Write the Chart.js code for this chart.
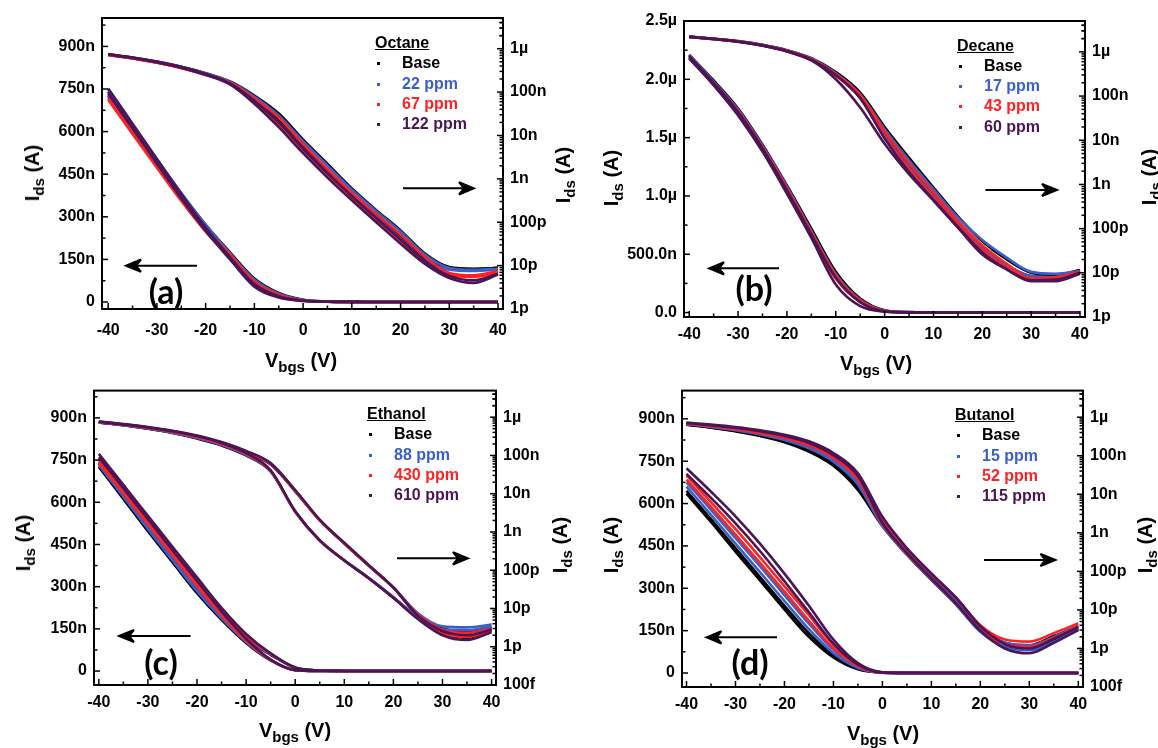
<!DOCTYPE html>
<html>
<head>
<meta charset="utf-8">
<script src="https://cdn.jsdelivr.net/npm/chart.js@4.4.1/dist/chart.umd.min.js"></script>
<style>
  body { margin: 0; width: 1158px; height: 748px; position: relative; background: #fff; overflow: hidden;
         font-family: "Liberation Sans", Arial, sans-serif; }
  .panel { position: absolute; width: 579px; height: 374px; }
  .ttl { position: absolute; font-weight: bold; font-size: 20px; line-height: 20px; white-space: nowrap;
         transform: translate(-50%, -50%); }
  .ttl.rot { transform: translate(-50%, -50%) rotate(-90deg); }
  .sb { font-size: 15px; position: relative; top: 5px; }
  .tag { position: absolute; font-family: Lato, "Open Sans", sans-serif; font-weight: bold; font-size: 34px;
         line-height: 34px; transform: translate(-50%, -50%); }
  .leg { position: absolute; font-weight: bold; font-size: 16px; }
  .leg div { height: 20.3px; line-height: 20.3px; position: relative; white-space: nowrap; }
  .leg .lt { text-decoration: underline; }
  .leg i { position: absolute; left: 2px; top: 9px; width: 3px; height: 3px; }
  .leg span { position: absolute; left: 27px; }
  svg { position: absolute; left: 0; top: 0; }
</style>
</head>
<body>
<div class="panel" style="left:0;top:0"><canvas id="cA" width="579" height="374"></canvas></div>
<div class="panel" style="left:579px;top:0"><canvas id="cB" width="579" height="374"></canvas></div>
<div class="panel" style="left:0;top:374px"><canvas id="cC" width="579" height="374"></canvas></div>
<div class="panel" style="left:579px;top:374px"><canvas id="cD" width="579" height="374"></canvas></div>

<div class="ttl rot" style="left:33px;top:173px">I<span class="sb">ds</span> (A)</div>
<div class="ttl rot" style="left:564px;top:175px">I<span class="sb">ds</span> (A)</div>
<div class="ttl" style="left:301px;top:361px">V<span class="sb">bgs</span> (V)</div>
<div class="ttl rot" style="left:612px;top:178px">I<span class="sb">ds</span> (A)</div>
<div class="ttl rot" style="left:1150px;top:177px">I<span class="sb">ds</span> (A)</div>
<div class="ttl" style="left:876px;top:364px">V<span class="sb">bgs</span> (V)</div>
<div class="ttl rot" style="left:24px;top:543px">I<span class="sb">ds</span> (A)</div>
<div class="ttl rot" style="left:561px;top:545px">I<span class="sb">ds</span> (A)</div>
<div class="ttl" style="left:295px;top:731px">V<span class="sb">bgs</span> (V)</div>
<div class="ttl rot" style="left:612px;top:545px">I<span class="sb">ds</span> (A)</div>
<div class="ttl rot" style="left:1146px;top:545px">I<span class="sb">ds</span> (A)</div>
<div class="ttl" style="left:883px;top:734px">V<span class="sb">bgs</span> (V)</div>

<div class="tag" style="left:166px;top:291px">(a)</div>
<div class="tag" style="left:754px;top:288px">(b)</div>
<div class="tag" style="left:161px;top:662px">(c)</div>
<div class="tag" style="left:750px;top:662px">(d)</div>

<svg width="1158" height="748">
  <g stroke="#000" stroke-width="2" fill="#000">
    <line x1="197" y1="265.7" x2="130" y2="265.7"/><path d="M126,265.7 L141,259.5 L136,265.7 L141,271.9 Z"/>
    <line x1="403" y1="188.3" x2="470" y2="188.3"/><path d="M474,188.3 L459,182.1 L464,188.3 L459,194.5 Z"/>
    <line x1="779" y1="268.3" x2="713" y2="268.3"/><path d="M709,268.3 L724,262.1 L719,268.3 L724,274.5 Z"/>
    <line x1="985.5" y1="190" x2="1053" y2="190"/><path d="M1057,190 L1042,183.8 L1047,190 L1042,196.2 Z"/>
    <line x1="190.5" y1="636" x2="123" y2="636"/><path d="M119,636 L134,629.8 L129,636 L134,642.2 Z"/>
    <line x1="397" y1="558.3" x2="464" y2="558.3"/><path d="M468,558.3 L453,552.1 L458,558.3 L453,564.5 Z"/>
    <line x1="777" y1="637.3" x2="710.4" y2="637.3"/><path d="M706.4,637.3 L721.4,631.1 L716.4,637.3 L721.4,643.5 Z"/>
    <line x1="984" y1="560" x2="1051.5" y2="560"/><path d="M1055.5,560 L1040.5,553.8 L1045.5,560 L1040.5,566.2 Z"/>
  </g>
</svg>

<script>
// gate voltage sweep points (V)
const vg = [-40, -35, -30, -25, -20, -15, -10, -5, 0, 5, 10, 15, 20, 25, 30, 35, 40];

// (a) Octane, drain current (A), upper (F) and lower (R) sweep branch
const octNames = ['Base', '22 ppm', '67 ppm', '122 ppm'];
const octBaseF = [7.40e-7, 6.20e-7, 5.00e-7, 3.82e-7, 2.72e-7, 1.75e-7, 8.3e-8, 3.2e-8, 8.0e-9, 2.2e-9, 6.0e-10, 1.9e-10, 6.5e-11, 1.9e-11, 9.3e-12, 8.5e-12, 8.7e-12];
const octBaseR = [7.25e-7, 6.02e-7, 4.80e-7, 3.62e-7, 2.55e-7, 1.63e-7, 6.8e-8, 2.2e-8, 5.6e-9, 1.5e-9, 4.3e-10, 1.4e-10, 4.6e-11, 1.45e-11, 8.5e-12, 8.0e-12, 9.0e-12];
const oct22F = [7.48e-7, 6.25e-7, 5.03e-7, 3.84e-7, 2.72e-7, 1.72e-7, 7.9e-8, 2.9e-8, 7.4e-9, 2.05e-9, 5.6e-10, 1.8e-10, 6.1e-11, 1.8e-11, 8.8e-12, 8.0e-12, 8.5e-12];
const oct22R = [7.30e-7, 6.08e-7, 4.86e-7, 3.66e-7, 2.55e-7, 1.60e-7, 6.5e-8, 2.0e-8, 5.1e-9, 1.4e-9, 4.0e-10, 1.3e-10, 4.2e-11, 1.35e-11, 8.0e-12, 7.5e-12, 8.0e-12];
const oct67F = [7.18e-7, 5.98e-7, 4.80e-7, 3.64e-7, 2.58e-7, 1.67e-7, 7.2e-8, 2.6e-8, 6.3e-9, 1.7e-9, 4.7e-10, 1.55e-10, 5.2e-11, 1.6e-11, 6.8e-12, 6.0e-12, 7.5e-12];
const oct67R = [7.12e-7, 5.92e-7, 4.73e-7, 3.56e-7, 2.48e-7, 1.56e-7, 5.9e-8, 1.8e-8, 4.6e-9, 1.25e-9, 3.7e-10, 1.15e-10, 3.7e-11, 1.2e-11, 6.0e-12, 5.5e-12, 7.0e-12];
const oct122F = [7.52e-7, 6.28e-7, 5.04e-7, 3.80e-7, 2.62e-7, 1.58e-7, 6.3e-8, 2.0e-8, 5.0e-9, 1.35e-9, 4.0e-10, 1.25e-10, 4.0e-11, 1.3e-11, 5.8e-12, 4.6e-12, 6.5e-12];
const oct122R = [7.35e-7, 6.12e-7, 4.88e-7, 3.65e-7, 2.50e-7, 1.50e-7, 5.4e-8, 1.55e-8, 3.9e-9, 1.07e-9, 3.2e-10, 1.0e-10, 3.2e-11, 1.1e-11, 5.2e-12, 4.0e-12, 6.2e-12];

// (b) Decane
const decNames = ['Base', '17 ppm', '43 ppm', '60 ppm'];
const decBaseF = [2.21e-6, 1.99e-6, 1.75e-6, 1.44e-6, 1.09e-6, 7.2e-7, 3.5e-7, 1.2e-7, 2.0e-8, 4.0e-9, 8.5e-10, 1.9e-10, 5.2e-11, 2.0e-11, 1.0e-11, 9.0e-12, 1.15e-11];
const decBaseR = [2.19e-6, 1.97e-6, 1.72e-6, 1.41e-6, 1.05e-6, 6.8e-7, 3.1e-7, 1.0e-7, 1.4e-8, 2.6e-9, 5.8e-10, 1.35e-10, 3.8e-11, 1.5e-11, 8.5e-12, 8.5e-12, 1.1e-11];
const dec17F = [2.21e-6, 1.98e-6, 1.74e-6, 1.43e-6, 1.08e-6, 7.0e-7, 3.3e-7, 1.1e-7, 1.8e-8, 3.5e-9, 7.8e-10, 1.8e-10, 5.5e-11, 2.2e-11, 1.05e-11, 9.5e-12, 1.1e-11];
const dec17R = [2.19e-6, 1.96e-6, 1.71e-6, 1.40e-6, 1.04e-6, 6.6e-7, 3.0e-7, 9.5e-8, 1.3e-8, 2.4e-9, 5.4e-10, 1.3e-10, 3.6e-11, 1.5e-11, 8.5e-12, 8.0e-12, 1.0e-11];
const dec43F = [2.20e-6, 1.97e-6, 1.73e-6, 1.42e-6, 1.07e-6, 6.9e-7, 3.2e-7, 1.05e-7, 1.6e-8, 3.0e-9, 6.6e-10, 1.5e-10, 4.2e-11, 1.6e-11, 7.5e-12, 8.0e-12, 1.05e-11];
const dec43R = [2.18e-6, 1.95e-6, 1.70e-6, 1.39e-6, 1.03e-6, 6.5e-7, 2.9e-7, 9.0e-8, 1.2e-8, 2.2e-9, 5.0e-10, 1.2e-10, 3.3e-11, 1.3e-11, 7.0e-12, 7.5e-12, 1.0e-11];
const dec60F = [2.20e-6, 1.97e-6, 1.72e-6, 1.41e-6, 1.05e-6, 6.7e-7, 3.0e-7, 9.0e-8, 1.1e-8, 1.9e-9, 4.5e-10, 1.1e-10, 2.9e-11, 1.2e-11, 6.8e-12, 7.0e-12, 1.0e-11];
const dec60R = [2.18e-6, 1.95e-6, 1.69e-6, 1.38e-6, 1.02e-6, 6.4e-7, 2.4e-7, 5.5e-8, 8.3e-9, 1.7e-9, 4.3e-10, 1.05e-10, 2.6e-11, 1.2e-11, 6.5e-12, 6.5e-12, 9.5e-12];

// (c) Ethanol
const ethNames = ['Base', '88 ppm', '430 ppm', '610 ppm'];
const ethBaseF = [7.38e-7, 6.25e-7, 5.10e-7, 4.00e-7, 2.90e-7, 1.95e-7, 1.15e-7, 5.8e-8, 1.15e-8, 2.0e-9, 5.0e-10, 1.3e-10, 3.5e-11, 6.5e-12, 3.0e-12, 2.5e-12, 3.2e-12];
const ethBaseR = [7.26e-7, 6.12e-7, 4.97e-7, 3.87e-7, 2.77e-7, 1.82e-7, 1.0e-7, 3.8e-8, 3.4e-9, 6.0e-10, 1.8e-10, 6.2e-11, 1.9e-11, 5.5e-12, 2.3e-12, 1.7e-12, 2.7e-12];
const eth88F = [7.45e-7, 6.32e-7, 5.18e-7, 4.07e-7, 2.97e-7, 2.00e-7, 1.18e-7, 6.0e-8, 1.2e-8, 2.05e-9, 5.1e-10, 1.35e-10, 3.6e-11, 7.5e-12, 3.4e-12, 3.2e-12, 3.8e-12];
const eth88R = [7.33e-7, 6.20e-7, 5.05e-7, 3.94e-7, 2.84e-7, 1.87e-7, 1.03e-7, 3.9e-8, 3.5e-9, 6.1e-10, 1.85e-10, 6.3e-11, 2.0e-11, 6.0e-12, 2.8e-12, 2.7e-12, 3.4e-12];
const eth430F = [7.52e-7, 6.45e-7, 5.35e-7, 4.25e-7, 3.15e-7, 2.12e-7, 1.24e-7, 6.1e-8, 1.2e-8, 2.0e-9, 5.0e-10, 1.3e-10, 3.5e-11, 7.0e-12, 2.8e-12, 2.3e-12, 3.0e-12];
const eth430R = [7.40e-7, 6.32e-7, 5.22e-7, 4.12e-7, 3.02e-7, 1.98e-7, 1.08e-7, 4.0e-8, 3.4e-9, 5.9e-10, 1.8e-10, 6.1e-11, 1.9e-11, 5.5e-12, 2.2e-12, 1.8e-12, 2.6e-12];
const eth610F = [7.72e-7, 6.62e-7, 5.52e-7, 4.42e-7, 3.33e-7, 2.25e-7, 1.32e-7, 6.3e-8, 1.25e-8, 2.1e-9, 5.2e-10, 1.35e-10, 3.5e-11, 6.5e-12, 2.6e-12, 2.0e-12, 2.8e-12];
const eth610R = [7.60e-7, 6.50e-7, 5.40e-7, 4.30e-7, 3.20e-7, 2.12e-7, 1.15e-7, 4.1e-8, 3.5e-9, 6.0e-10, 1.8e-10, 6.2e-11, 1.9e-11, 5.3e-12, 2.0e-12, 1.5e-12, 2.4e-12];

// (d) Butanol
const butNames = ['Base', '15 ppm', '52 ppm', '115 ppm'];
const butBaseF = [6.45e-7, 5.45e-7, 4.42e-7, 3.40e-7, 2.38e-7, 1.40e-7, 6.2e-8, 1.6e-8, 2.0e-9, 3.4e-10, 7.8e-11, 1.9e-11, 3.6e-12, 1.4e-12, 1.2e-12, 2.1e-12, 3.8e-12];
const butBaseR = [6.35e-7, 5.35e-7, 4.30e-7, 3.28e-7, 2.25e-7, 1.28e-7, 5.5e-8, 1.3e-8, 1.5e-9, 2.7e-10, 6.0e-11, 1.4e-11, 2.8e-12, 1.1e-12, 9.5e-13, 1.6e-12, 3.2e-12];
const but15F = [6.75e-7, 5.78e-7, 4.78e-7, 3.78e-7, 2.76e-7, 1.75e-7, 8.2e-8, 2.2e-8, 2.1e-9, 3.5e-10, 8.0e-11, 1.9e-11, 3.5e-12, 1.4e-12, 1.2e-12, 2.0e-12, 3.9e-12];
const but15R = [6.60e-7, 5.60e-7, 4.58e-7, 3.57e-7, 2.55e-7, 1.55e-7, 7.0e-8, 1.8e-8, 1.5e-9, 2.7e-10, 6.1e-11, 1.4e-11, 2.7e-12, 1.1e-12, 9.0e-13, 1.5e-12, 3.3e-12];
const but52F = [7.00e-7, 6.05e-7, 5.10e-7, 4.10e-7, 3.08e-7, 2.05e-7, 1.0e-7, 2.8e-8, 2.3e-9, 3.8e-10, 8.5e-11, 2.1e-11, 4.0e-12, 1.7e-12, 1.5e-12, 2.5e-12, 4.5e-12];
const but52R = [6.85e-7, 5.88e-7, 4.90e-7, 3.90e-7, 2.88e-7, 1.85e-7, 8.8e-8, 2.4e-8, 1.7e-9, 2.9e-10, 6.5e-11, 1.5e-11, 3.0e-12, 1.3e-12, 1.1e-12, 1.9e-12, 3.8e-12];
const but115F = [7.25e-7, 6.42e-7, 5.55e-7, 4.58e-7, 3.52e-7, 2.38e-7, 1.18e-7, 3.5e-8, 2.6e-9, 4.0e-10, 8.8e-11, 2.1e-11, 3.8e-12, 1.3e-12, 1.0e-12, 1.8e-12, 3.6e-12];
const but115R = [7.05e-7, 6.20e-7, 5.30e-7, 4.32e-7, 3.25e-7, 2.15e-7, 1.04e-7, 3.0e-8, 1.8e-9, 3.0e-10, 6.6e-11, 1.5e-11, 2.9e-12, 1.0e-12, 7.5e-13, 1.4e-12, 3.0e-12];

// axis ticks
const xMajor = [-40, -30, -20, -10, 0, 10, 20, 30, 40];
const xLabels = ['-40', '-30', '-20', '-10', '0', '10', '20', '30', '40'];
const xMinor = [-35, -25, -15, -5, 5, 15, 25, 35];
const linMajor = [0, 1.5e-7, 3e-7, 4.5e-7, 6e-7, 7.5e-7, 9e-7];
const linLabels = ['0', '150n', '300n', '450n', '600n', '750n', '900n'];
const linMinor = [7.5e-8, 2.25e-7, 3.75e-7, 5.25e-7, 6.75e-7, 8.25e-7, 9.75e-7];
const decLinMajor = [0, 5e-7, 1e-6, 1.5e-6, 2e-6, 2.5e-6];
const decLinLabels = ['0.0', '500.0n', '1.0\u00b5', '1.5\u00b5', '2.0\u00b5', '2.5\u00b5'];
const decLinMinor = [2.5e-7, 7.5e-7, 1.25e-6, 1.75e-6, 2.25e-6];
const logMajor = [1e-13, 1e-12, 1e-11, 1e-10, 1e-9, 1e-8, 1e-7, 1e-6];
const logLabels = ['100f', '1p', '10p', '100p', '1n', '10n', '100n', '1\u00b5'];
const logMinorMult = [2, 3, 4, 5, 6, 7, 8, 9];

const seriesColors = ['#000000', '#3b5fc9', '#ff2222', '#4a1556'];
const tickFont = { family: '"Liberation Sans", Arial, sans-serif', size: 16, weight: 'bold' };

const mkTicks = (major, labels, minor, lo, hi) => {
    const t = major.map((v, i) => ({ value: v, lbl: labels[i], mj: true }))
        .concat(minor.map(v => ({ value: v, lbl: '', mj: false })));
    return t.filter(k => k.value >= lo * 0.9999 && k.value <= hi * 1.0001).sort((a, b) => a.value - b.value);
};

const logMinor = [];
logMajor.forEach(d => logMinorMult.forEach(m => logMinor.push(m * d)));
logMinor.push(...logMinorMult.map(m => m * 1e-6));

// frame + inward tick marks, like the original plot
const frameTicks = {
    id: 'frameTicks',
    afterDraw(chart) {
        const { ctx, chartArea: a } = chart;
        ctx.save();
        ctx.strokeStyle = '#000';
        ctx.lineWidth = 2;
        ctx.strokeRect(a.left, a.top, a.right - a.left, a.bottom - a.top);
        ctx.lineWidth = 1.5;
        ['x', 'yl', 'yr'].forEach(id => {
            const s = chart.scales[id];
            s.ticks.forEach(t => {
                const p = s.getPixelForValue(t.value);
                const len = t.mj ? 6 : 3.5;
                ctx.beginPath();
                if (id === 'x') {
                    ctx.moveTo(p, a.bottom); ctx.lineTo(p, a.bottom - len);
                } else if (id === 'yl') {
                    ctx.moveTo(a.left, p); ctx.lineTo(a.left + len, p);
                } else {
                    ctx.moveTo(a.right, p); ctx.lineTo(a.right - len, p);
                }
                ctx.stroke();
            });
        });
        ctx.restore();
    }
};

const makePanel = (canvasId, p) => {
    const datasets = [];
    p.series.forEach((branches, i) => {
        branches.forEach(arr => {
            ['yl', 'yr'].forEach(ax => {
                datasets.push({
                    data: vg.map((v, k) => ({ x: v, y: arr[k] })),
                    yAxisID: ax,
                    borderColor: seriesColors[i],
                    borderWidth: 2.6,
                    pointRadius: 0,
                    fill: false,
                    cubicInterpolationMode: 'monotone',
                    order: 4 - i
                });
            });
        });
    });

    const lbl = (v, i, ticks) => ticks[i].lbl || '';

    new Chart(document.getElementById(canvasId), {
        type: 'line',
        data: { datasets },
        plugins: [frameTicks],
        options: {
            responsive: false,
            animation: false,
            layout: { padding: { top: p.topPad, left: 0, right: 0, bottom: 0 } },
            plugins: { legend: { display: false }, tooltip: { enabled: false } },
            scales: {
                x: {
                    type: 'linear', min: p.xMin, max: p.xMax,
                    grid: { display: false, drawTicks: false }, border: { display: false },
                    ticks: { font: tickFont, color: '#000', padding: p.xPad, autoSkip: false, maxRotation: 0, callback: lbl },
                    afterBuildTicks: s => { s.ticks = mkTicks(xMajor, xLabels, xMinor, -100, 100); },
                    afterFit: s => { s.height = p.bottomH; }
                },
                yl: {
                    type: 'linear', position: 'left', min: p.ylMin, max: p.ylMax,
                    grid: { display: false, drawTicks: false }, border: { display: false },
                    ticks: { font: tickFont, color: '#000', padding: 7, autoSkip: false, callback: lbl },
                    afterBuildTicks: s => { s.ticks = mkTicks(p.linMajor, p.linLabels, p.linMinor, -1, p.ylMax); },
                    afterFit: s => { s.width = p.leftW; }
                },
                yr: {
                    type: 'logarithmic', position: 'right', min: p.yrMin, max: p.yrMax,
                    grid: { display: false, drawTicks: false }, border: { display: false },
                    ticks: { font: tickFont, color: '#000', padding: 7, autoSkip: false, callback: lbl },
                    afterBuildTicks: s => { s.ticks = mkTicks(logMajor, logLabels, logMinor, p.yrMin, p.yrMax); },
                    afterFit: s => { s.width = p.rightW; }
                }
            }
        }
    });
};

const makeLegend = (left, top, title, names) => {
    const box = document.createElement('div');
    box.className = 'leg';
    box.style.left = left + 'px';
    box.style.top = top + 'px';
    let html = `<div class="lt">${title}</div>`;
    names.forEach((n, i) => {
        html += `<div><i style="background:${seriesColors[i]}"></i><span style="color:${seriesColors[i]}">${n}</span></div>`;
    });
    box.innerHTML = html;
    document.body.appendChild(box);
};

makePanel('cA', {
    series: [[octBaseF, octBaseR], [oct22F, oct22R], [oct67F, oct67R], [oct122F, oct122R]],
    xMin: -41.27, xMax: 41.02, ylMin: -2.46e-8, ylMax: 1.0e-6, yrMin: 1e-12, yrMax: 5.1e-6,
    linMajor, linLabels, linMinor,
    leftW: 102, rightW: 76, bottomH: 65, topPad: 18, xPad: 12
});
makePanel('cB', {
    series: [[decBaseF, decBaseR], [dec17F, dec17R], [dec43F, dec43R], [dec60F, dec60R]],
    xMin: -41.07, xMax: 41.02, ylMin: -3.8e-8, ylMax: 2.5e-6, yrMin: 1e-12, yrMax: 5.0e-6,
    linMajor: decLinMajor, linLabels: decLinLabels, linMinor: decLinMinor,
    leftW: 105, rightW: 73, bottomH: 57, topPad: 21, xPad: 8
});
makePanel('cC', {
    series: [[ethBaseF, ethBaseR], [eth88F, eth88R], [eth430F, eth430R], [eth610F, eth610R]],
    xMin: -40.98, xMax: 40.9, ylMin: -4.95e-8, ylMax: 9.97e-7, yrMin: 1e-13, yrMax: 4.95e-6,
    linMajor, linLabels, linMinor,
    leftW: 94, rightW: 83, bottomH: 63, topPad: 15, xPad: 8
});
makePanel('cD', {
    series: [[butBaseF, butBaseR], [but15F, but15R], [but52F, but52R], [but115F, but115R]],
    xMin: -40.92, xMax: 40.96, ylMin: -4.95e-8, ylMax: 1.0e-6, yrMin: 1e-13, yrMax: 4.9e-6,
    linMajor, linLabels, linMinor,
    leftW: 103, rightW: 75, bottomH: 61, topPad: 16, xPad: 8
});

makeLegend(375, 33, 'Octane', octNames);
makeLegend(957, 35.5, 'Decane', decNames);
makeLegend(367, 404, 'Ethanol', ethNames);
makeLegend(955, 405, 'Butanol', butNames);
</script>
</body>
</html>
